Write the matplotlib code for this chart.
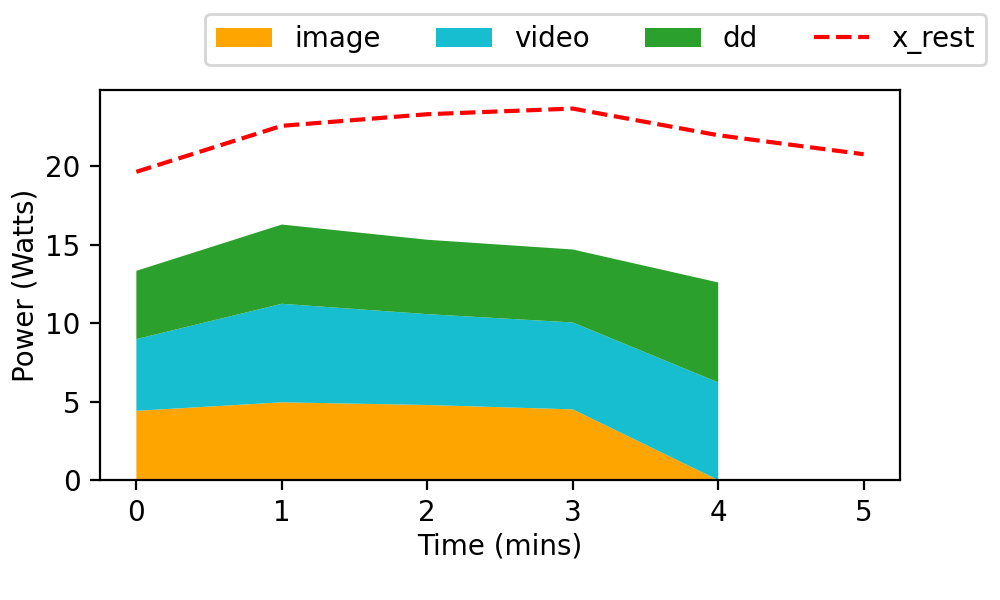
import matplotlib
matplotlib.use("Agg")
import matplotlib.pyplot as plt

# values
mins = [0, 1, 2, 3, 4]
image = [4.41, 4.95, 4.78, 4.50, 0.0]
video = [4.57, 6.28, 5.79, 5.54, 6.22]
dd = [4.35, 5.05, 4.74, 4.65, 6.37]

rest_mins = [0, 1, 2, 3, 4, 5]
x_rest = [19.64, 22.57, 23.31, 23.67, 21.97, 20.76]

fig, ax = plt.subplots(figsize=(5, 3), dpi=200)
fig.subplots_adjust(left=0.1, right=0.9, bottom=0.2, top=0.85)

ax.stackplot(mins, image, video, dd,
             labels=["image", "video", "dd"],
             colors=["orange", "tab:cyan", "tab:green"])
ax.plot(rest_mins, x_rest, "r--", label="x_rest")

ax.set_xlabel("Time (mins)", labelpad=2)
ax.set_ylabel("Power (Watts)", labelpad=2)
ax.set_ylim(0, None)

fig.legend(loc="upper right", ncol=4)

plt.savefig("out.png")
